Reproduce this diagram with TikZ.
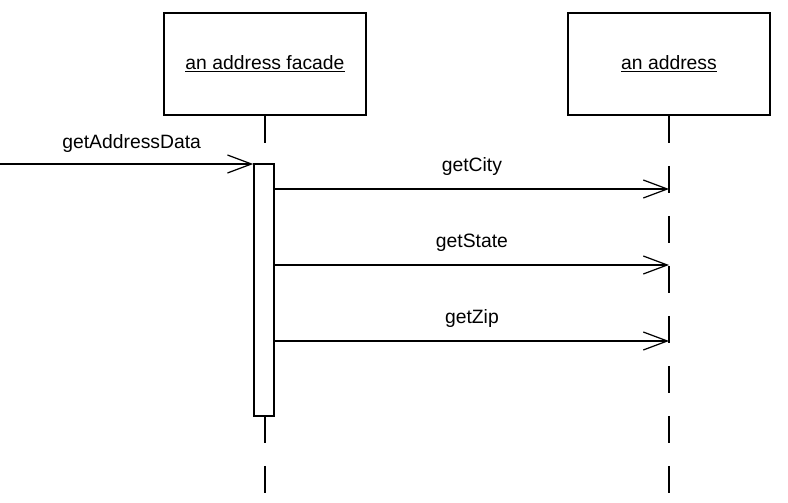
\documentclass[tikz,border=0pt]{standalone}
\usepackage{fontspec}
\setmainfont{Liberation Sans}
\usetikzlibrary{arrows.meta}

\begin{document}
\begin{tikzpicture}[x=0.02cm, y=-0.02cm, font=\fontsize{11pt}{13pt}\selectfont,
	obj/.style={draw, line width=1pt, minimum width=4.04cm, minimum height=2.04cm, inner sep=0pt},
	life/.style={line width=0.9pt, dash pattern=on 0.54cm off 0.46cm},
	msg/.style={line width=0.7pt, -{Straight Barb[length=0.48cm, width=0.36cm, line width=0.7pt]}}]
	\useasboundingbox (0,0) rectangle (788,503);
	\node[obj] (facade) at (265,64) {\underline{an address facade}};
	\node[obj] (addr) at (669,64) {\underline{an address}};
	\coordinate (facadeend) at (265,495); \coordinate (addrend) at (669,495);
	\draw[life] (facade.south) -- (facadeend);
	\draw[life] (addr.south) -- (addrend);
	\node[draw, fill=white, line width=0.9pt, minimum width=0.4cm, minimum height=5.04cm, inner sep=0pt] (act) at (264,290) {};
	\coordinate (caller) at (0,164);
	\draw[msg] (caller) -- (caller -| act.west) node[pos=0.52, above=3pt] {getAddressData};
	\coordinate (city) at (669,189); \coordinate (state) at (669,265); \coordinate (zip) at (669,341);
	\draw[msg] (act.east |- city) -- (city) node[midway, above=4pt] {getCity};
	\draw[msg] (act.east |- state) -- (state) node[midway, above=4pt] {getState};
	\draw[msg] (act.east |- zip) -- (zip) node[midway, above=4pt] {getZip};
\end{tikzpicture}
\end{document}
